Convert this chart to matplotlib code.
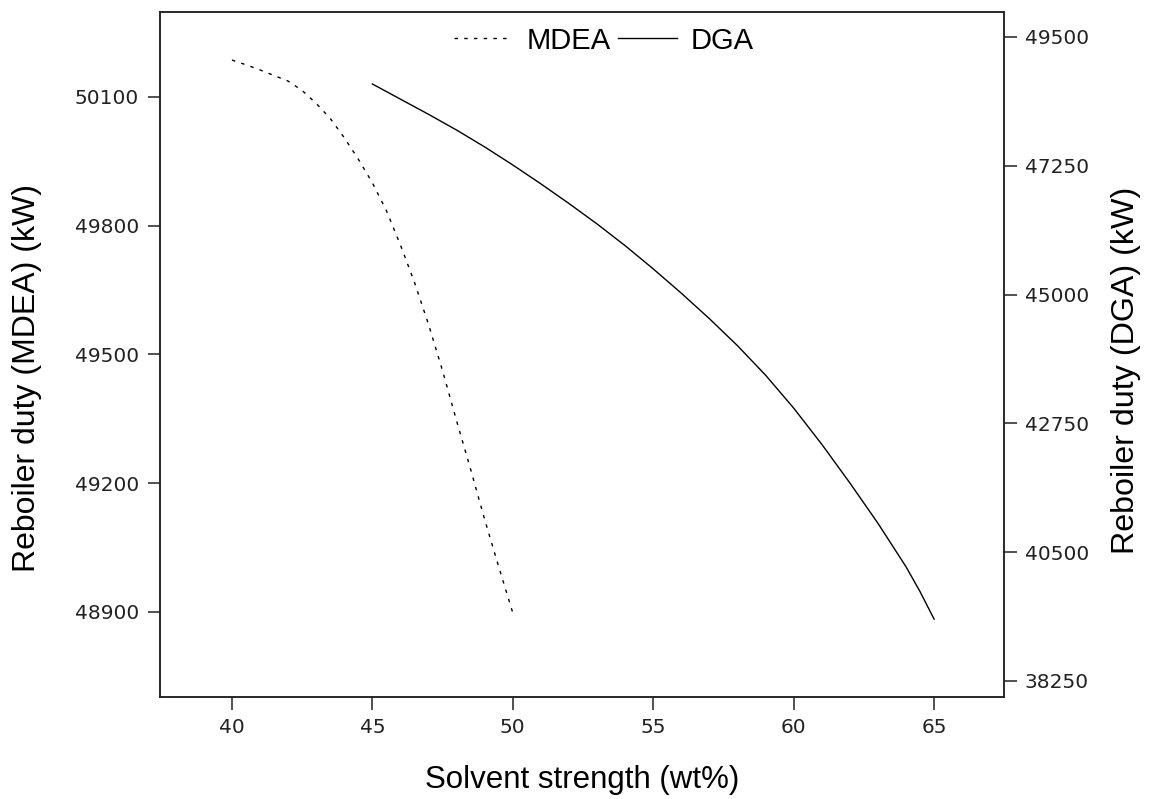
import matplotlib
matplotlib.use("Agg")
import matplotlib.pyplot as plt

# Solvent strength (wt%) and reboiler duty (kW)
mdea_strength = [40, 40.5, 41, 41.5, 42, 42.5, 43, 43.5, 44, 44.5, 45,
                 45.5, 46, 46.5, 47, 47.5, 48, 48.5, 49, 49.5, 50]
mdea_duty = [50186, 50175, 50163, 50150, 50137, 50115, 50085, 50050, 50005, 49955, 49900,
             49835, 49755, 49668, 49570, 49462, 49345, 49232, 49115, 49005, 48898]

dga_strength = [45, 46, 47, 48, 49, 50, 51, 52, 53, 54, 55,
                56, 57, 58, 59, 60, 61, 62, 63, 64, 64.5, 65]
dga_duty = [48679, 48414, 48149, 47874, 47579, 47264, 46934, 46591, 46234, 45854, 45449,
            45024, 44579, 44107, 43592, 43017, 42385, 41710, 41005, 40245, 39810, 39330]

x_ticks = [40, 45, 50, 55, 60, 65]
mdea_ticks = [48900, 49200, 49500, 49800, 50100]
dga_ticks = [38250, 40500, 42750, 45000, 47250, 49500]

label_font = "Liberation Sans"
tick_font = "DejaVu Sans"
frame_color = "#222222"

fig = plt.figure(figsize=(11.53, 7.99), dpi=100)
ax = fig.add_axes([0.1388, 0.1277, 0.8708 - 0.1388, 0.985 - 0.1277])
ax2 = ax.twinx()

l1, = ax.plot(mdea_strength, mdea_duty, color="black", lw=1.0,
              linestyle=(0, (2.5, 4.5)), label="MDEA")
l2, = ax2.plot(dga_strength, dga_duty, color="black", lw=1.0,
               linestyle="-", label="DGA")

ax.set_xlim(37.44, 67.49)
ax.set_ylim(48702, 50298)
ax2.set_ylim(37970, 49937)

ax.set_xticks(x_ticks)
ax.set_yticks(mdea_ticks)
ax2.set_yticks(dga_ticks)

for a in (ax, ax2):
    for s in a.spines.values():
        s.set_linewidth(1.1)
        s.set_color(frame_color)
    a.tick_params(direction="out", length=9, width=1.1, color=frame_color,
                  labelsize=14.5, pad=6, labelcolor="#222222")
    for lbl in a.get_xticklabels() + a.get_yticklabels():
        lbl.set_fontfamily(tick_font)

ax.set_xlabel("Solvent strength (wt%)", fontsize=22.5, family=label_font, labelpad=20)
ax.set_ylabel("Reboiler duty (MDEA) (kW)", fontsize=23, family=label_font)
ax2.set_ylabel("Reboiler duty (DGA) (kW)", fontsize=23.2, family=label_font)
ax.yaxis.set_label_coords(-0.1398, 0.4657)
ax2.yaxis.set_label_coords(1.1265, 0.4774)

ax.legend(handles=[l1, l2], loc="upper center", bbox_to_anchor=(0.526, 1.017),
          ncol=2, frameon=False, prop={"family": label_font, "size": 21},
          handlelength=2.0, handletextpad=0.5, columnspacing=0.25)

fig.savefig("out.png", dpi=100)
